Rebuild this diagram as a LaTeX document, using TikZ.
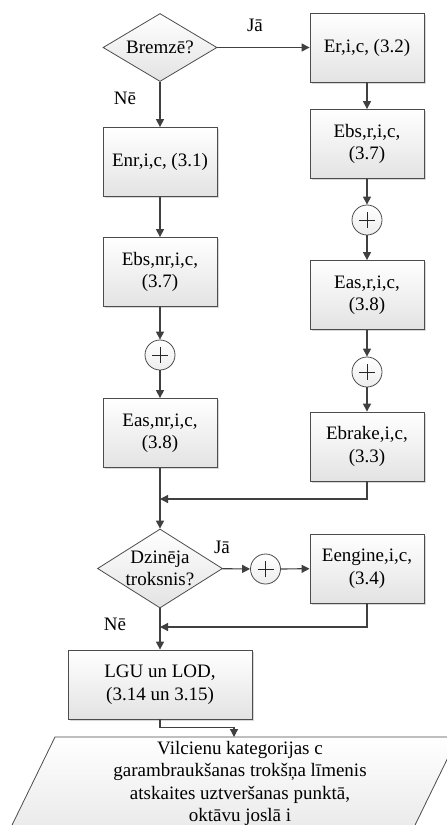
\documentclass[tikz,border=0pt]{standalone}
\usepackage{fontspec}
\setmainfont{Liberation Serif}
\usetikzlibrary{shapes.geometric,arrows.meta,shadows}
\begin{document}
\begin{tikzpicture}[x=1pt,y=-1pt,
  every node/.style={font=\fontsize{19}{22.5}\selectfont, text=black},
  shapestyle/.style={draw=black!70, line width=0.8pt, top color=white, bottom color=black!11},
  box/.style={shapestyle, minimum width=114pt, minimum height=69pt, align=center, inner sep=0pt,
    drop shadow={shadow xshift=1.5pt, shadow yshift=-1.5pt, fill=black!30, opacity=0.5}},
  dec/.style={shapestyle, diamond, inner sep=0pt},
  plus/.style={shapestyle, bottom color=black!7, circle, minimum size=30pt, inner sep=0pt,
    path picture={\draw[black!85, line width=0.8pt]
      ([xshift=-8pt]path picture bounding box.center) -- ([xshift=8pt]path picture bounding box.center)
      ([yshift=-8pt]path picture bounding box.center) -- ([yshift=8pt]path picture bounding box.center);}},
  arr/.style={draw=black!75, line width=1.2pt, -{Triangle[width=8pt,length=8pt]}},
  lbl/.style={inner sep=0pt}
]
\useasboundingbox (0,0) rectangle (447,825);
\clip (0,0) rectangle (447,825);
\fill[white] (0,0) rectangle (447,825);

% left column
\node[dec, minimum width=114pt, minimum height=68pt, label={[name=d1t]center:{Bremzē?}}] (d1) at (160,47.5) {};
\node[box] (enr) at (160,162) {Enr,i,c, (3.1)};
\node[box] (ebsnr) at (160,272) {Ebs,nr,i,c,\\(3.7)};
\node[plus] (p1) at (160,355) {};
\node[box] (easnr) at (160,433) {Eas,nr,i,c,\\(3.8)};

% right column
\node[box] (er) at (367,47.5) {Er,i,c, (3.2)};
\node[box] (ebsr) at (367,144) {Ebs,r,i,c,\\(3.7)};
\node[plus] (p2) at (367,220) {};
\node[box] (easr) at (367,295) {Eas,r,i,c,\\(3.8)};
\node[plus] (p3) at (367,372) {};
\node[box] (ebrake) at (367,446.5) {Ebrake,i,c,\\(3.3)};

% engine decision
\node[dec, minimum width=125pt, minimum height=79pt, label={[name=d2t, align=center]center:{Dzinēja\\troksnis?}}] (d2) at (160,568.5) {};
\node[plus] (p4) at (265.5,569) {};
\node[box] (eng) at (367,568.5) {Eengine,i,c,\\(3.4)};
\node[box, minimum width=184pt] (lgu) at (160,684.5) {LGU un LOD,\\(3.14 un 3.15)};

% labels
\node[lbl] (ja1) at (255,25) {Jā};
\node[lbl] (ne1) at (125,98) {Nē};
\node[lbl] (ja2) at (222,547) {Jā};
\node[lbl] (ne2) at (115,624) {Nē};

% output parallelogram
\path[shapestyle] (55,737) coordinate (pa) -- (458,737) coordinate (pb) -- (398,860) coordinate (pc) -- (-5,860) coordinate (pd) -- cycle;
\node[anchor=north, align=center, inner sep=0pt] (outtxt) at (240,741)
  {Vilcienu kategorijas c\\garambraukšanas trokšņa līmenis\\atskaites uztveršanas punktā,\\oktāvu joslā i};

\coordinate (m1) at (160,499);
\coordinate (m2) at (160,627);
\coordinate (out) at (234,737);

% connectors
\draw[arr] (d1) -- (er);
\draw[arr] (d1) -- (enr);
\draw[arr] (enr) -- (ebsnr);
\draw[arr] (ebsnr) -- (p1);
\draw[arr] (p1) -- (easnr);
\draw[arr] (easnr) -- (d2);
\draw[arr] (er) -- (ebsr);
\draw[arr] (ebsr) -- (p2);
\draw[arr] (p2) -- (easr);
\draw[arr] (easr) -- (p3);
\draw[arr] (p3) -- (ebrake);
\draw[arr] (ebrake.south) |- (m1);
\draw[arr] (d2) -- (p4);
\draw[arr] (p4) -- (eng);
\draw[arr] (eng.south) |- (m2);
\draw[arr] (d2) -- (lgu);
\draw[arr] (lgu.south) -- ++(0,8) -| (out);
\end{tikzpicture}
\end{document}
